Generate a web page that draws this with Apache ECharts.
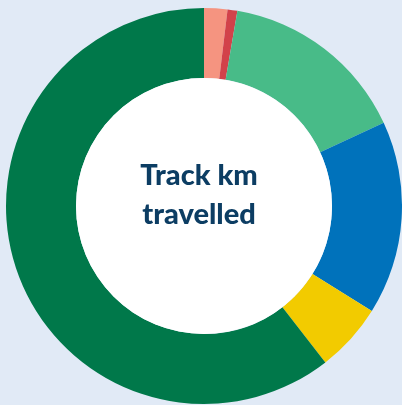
<!DOCTYPE html>
<html lang="en">
<head>
  <meta charset="UTF-8">
  <script src="https://cdn.jsdelivr.net/npm/echarts@6/dist/echarts.min.js"></script>
  <title>Track km travelled</title>
  <style>
    html, body { margin: 0; padding: 0; background: #e1eaf6; }
  </style>
</head>
<body>
  <div id="main" style="width: 402px;height:405px;"></div>
  <script type="text/javascript">
    // share of track km, clockwise from 12 o'clock
    var names = ['A', 'B', 'C', 'D', 'E', 'F'];
    var values = [1.9, 0.8, 15.4, 15.8, 5.6, 60.5];
    var colors = ['#f59480', '#d2424a', '#48bb88', '#0072bb', '#f2cb00', '#00784a'];
    var centreText = 'Track km\ntravelled';

    var myChart = echarts.init(document.getElementById('main'));

    var data = names.map(function (n, i) {
      return { name: n, value: values[i], itemStyle: { color: colors[i] } };
    });

    var option = {
      backgroundColor: '#e1eaf6',
      animation: false,
      graphic: [
        {
          type: 'text',
          z: 100,
          style: {
            x: 199,
            y: 195,
            text: centreText,
            textAlign: 'center',
            textVerticalAlign: 'middle',
            font: '900 29px Lato',
            lineHeight: 39,
            fill: '#0c3d63'
          }
        }
      ],
      series: [
        {
          type: 'pie',
          center: [204, 206],
          radius: [128, 198],
          startAngle: 90,
          clockwise: true,
          label: { show: false },
          labelLine: { show: false },
          itemStyle: { borderWidth: 0 },
          emphasis: { disabled: true },
          data: data
        },
        {
          // white hole
          type: 'pie',
          center: [204, 206],
          radius: [0, 128],
          silent: true,
          label: { show: false },
          labelLine: { show: false },
          emphasis: { disabled: true },
          data: [{ value: 1, itemStyle: { color: '#ffffff' } }]
        }
      ]
    };
    myChart.setOption(option);
  </script>
</body>
</html>
